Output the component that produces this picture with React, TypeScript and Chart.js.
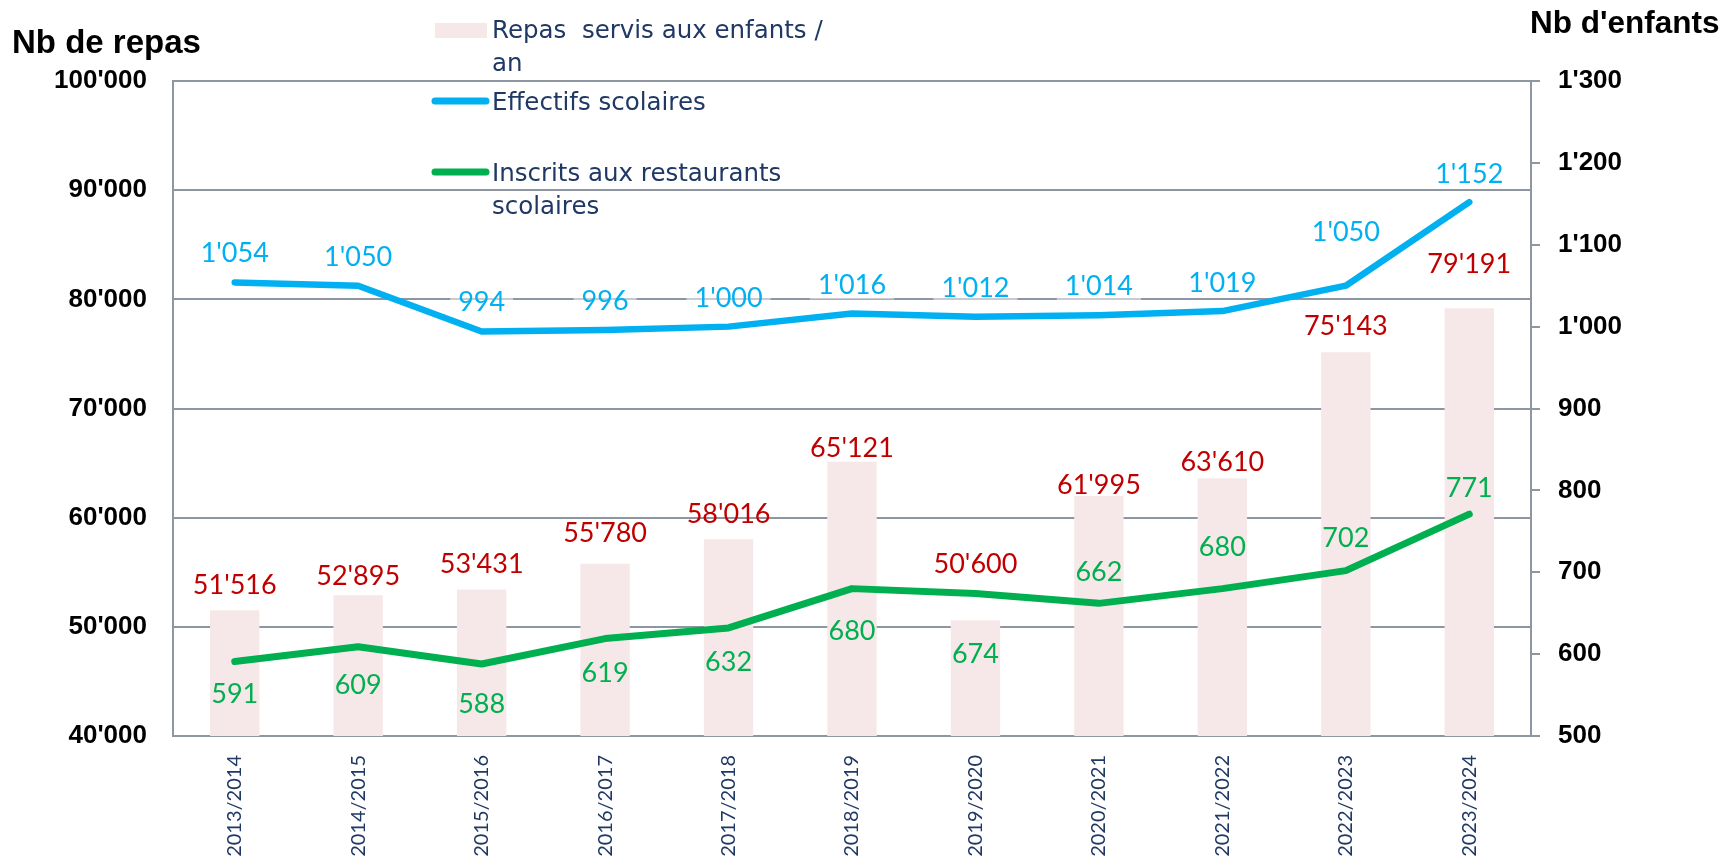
import React, { useEffect, useRef } from "react";
import { Chart, registerables } from "chart.js";

Chart.register(...registerables);

// ---- Data ----
const categories = [
  "2013/2014", "2014/2015", "2015/2016", "2016/2017", "2017/2018", "2018/2019",
  "2019/2020", "2020/2021", "2021/2022", "2022/2023", "2023/2024",
];
const repasServis = [51516, 52895, 53431, 55780, 58016, 65121, 50600, 61995, 63610, 75143, 79191];
const effectifsScolaires = [1054, 1050, 994, 996, 1000, 1016, 1012, 1014, 1019, 1050, 1152];
const inscritsRestaurants = [591, 609, 588, 619, 632, 680, 674, 662, 680, 702, 771];

const leftAxis = { min: 40000, max: 100000, step: 10000 };
const rightAxis = { min: 500, max: 1300, step: 100 };

const seriesNames = ["Repas  servis aux enfants / an", "Effectifs scolaires", "Inscrits aux restaurants scolaires"];
const legendLines = [["Repas  servis aux enfants /", "an"], ["Effectifs scolaires"], ["Inscrits aux restaurants", "scolaires"]];
const leftTitle = "Nb de repas";
const rightTitle = "Nb d'enfants";

// label vertical offsets relative to each mark (px)
const repasLabelDy = [-26, -20, -26, -31, -26, -14, -57, -12, -17, -27, -45];
const effectifsLabelDy = [-30, -29, -30, -30, -29, -29, -30, -30, -29, -54, -29];
const inscritsLabelDy = [32, 38, 39, 34, 33, 42, 60, -32, -42, -33, -27];

// ---- Styles ----
const BAR_COLOR = "#F6E8E8";
const BLUE = "#00B0F0";
const GREEN = "#00B050";
const RED = "#C00000";
const NAVY = "#1F3864";
const GRID = "#8E96A2";
const LABEL_FS = 27;

const fmt = (n: number) => String(Math.round(n)).replace(/\B(?=(\d{3})+(?!\d))/g, "'");

const labelPlugin = {
  id: "valueLabels",
  afterDatasetsDraw(chart: any) {
    const ctx = chart.ctx;
    const specs = [
      { idx: 0, dy: repasLabelDy, color: RED, box: false },
      { idx: 1, dy: effectifsLabelDy, color: BLUE, box: true },
      { idx: 2, dy: inscritsLabelDy, color: GREEN, box: false },
    ];
    ctx.save();
    ctx.font = `400 ${LABEL_FS}px Lato`;
    ctx.textAlign = "center";
    ctx.textBaseline = "alphabetic";
    specs.forEach((s) => {
      const meta = chart.getDatasetMeta(s.idx);
      const data = chart.data.datasets[s.idx].data as number[];
      meta.data.forEach((el: any, i: number) => {
        const x = el.x;
        const cy = el.y + s.dy[i];
        const text = fmt(data[i]);
        if (s.box) {
          const w = ctx.measureText(text).width;
          ctx.fillStyle = "rgba(255,255,255,0.5)";
          ctx.fillRect(x - w / 2 - 8, cy - 15, w + 16, 30);
        }
        ctx.fillStyle = s.color;
        ctx.fillText(text, x, cy + 0.36 * LABEL_FS);
      });
    });
    ctx.restore();
  },
};

const decorPlugin = {
  id: "decor",
  afterDraw(chart: any) {
    const ctx = chart.ctx;
    ctx.save();
    // axis titles
    ctx.fillStyle = "#000";
    ctx.textBaseline = "alphabetic";
    ctx.textAlign = "left";
    ctx.font = `bold 33px "Liberation Sans"`;
    ctx.fillText(leftTitle, 12, 53);
    ctx.font = `bold 31.5px "Liberation Sans"`;
    ctx.fillText(rightTitle, 1530, 33);

    // legend
    ctx.font = `24.5px "DejaVu Sans"`;
    ctx.fillStyle = BAR_COLOR;
    ctx.fillRect(435, 23, 52, 15);
    ctx.lineCap = "round";
    ctx.lineWidth = 7;
    ctx.strokeStyle = BLUE;
    ctx.beginPath();
    ctx.moveTo(435, 101);
    ctx.lineTo(486, 101);
    ctx.stroke();
    ctx.strokeStyle = GREEN;
    ctx.beginPath();
    ctx.moveTo(435, 172);
    ctx.lineTo(486, 172);
    ctx.stroke();
    ctx.fillStyle = NAVY;
    const baselines = [[38, 71], [110], [181, 214]];
    legendLines.forEach((lines, k) => {
      lines.forEach((t, j) => ctx.fillText(t, 492, baselines[k][j]));
    });
    ctx.restore();
  },
};

export default function App() {
  const canvasRef = useRef<HTMLCanvasElement | null>(null);

  useEffect(() => {
    if (!canvasRef.current) return;
    const tickFont = { family: "Liberation Sans", weight: "bold" as const, size: 26 };
    const chart = new Chart(canvasRef.current, {
      type: "bar",
      data: {
        labels: categories,
        datasets: [
          {
            type: "bar",
            label: seriesNames[0],
            data: repasServis,
            backgroundColor: BAR_COLOR,
            barPercentage: 0.4,
            categoryPercentage: 1,
            yAxisID: "y",
            order: 3,
          },
          {
            type: "line",
            label: seriesNames[1],
            data: effectifsScolaires,
            borderColor: BLUE,
            backgroundColor: BLUE,
            borderWidth: 6.5,
            borderCapStyle: "round",
            borderJoinStyle: "round",
            pointRadius: 0,
            tension: 0,
            yAxisID: "y1",
            order: 1,
          },
          {
            type: "line",
            label: seriesNames[2],
            data: inscritsRestaurants,
            borderColor: GREEN,
            backgroundColor: GREEN,
            borderWidth: 7,
            borderCapStyle: "round",
            borderJoinStyle: "round",
            pointRadius: 0,
            tension: 0,
            yAxisID: "y1",
            order: 2,
          },
        ] as any,
      },
      options: {
        animation: false,
        responsive: true,
        maintainAspectRatio: false,
        layout: { padding: { top: 81, left: 0, right: 0, bottom: 0 } },
        plugins: {
          legend: { display: false },
          tooltip: { enabled: false },
        },
        scales: {
          x: {
            grid: { display: true, drawOnChartArea: false, drawTicks: false },
            border: { display: true, color: GRID, width: 2 },
            ticks: {
              autoSkip: false,
              minRotation: 90,
              maxRotation: 90,
              padding: 19,
              color: NAVY,
              font: { family: "Lato", size: 20 },
            },
            afterFit: (s: any) => {
              s.height = 120;
            },
          },
          y: {
            position: "left",
            min: leftAxis.min,
            max: leftAxis.max,
            ticks: {
              stepSize: leftAxis.step,
              padding: 26,
              color: "#000",
              font: tickFont,
              callback: (v: any) => fmt(Number(v)),
            },
            grid: { color: GRID, lineWidth: 2, drawTicks: false },
            border: { display: true, color: GRID, width: 2 },
            afterFit: (s: any) => {
              s.width = 173;
            },
          },
          y1: {
            position: "right",
            min: rightAxis.min,
            max: rightAxis.max,
            ticks: {
              stepSize: rightAxis.step,
              padding: 18,
              color: "#000",
              font: tickFont,
              callback: (v: any) => fmt(Number(v)),
            },
            grid: { drawOnChartArea: false, drawTicks: true, tickLength: 9, color: GRID, lineWidth: 2 },
            border: { display: true, color: GRID, width: 2 },
            afterFit: (s: any) => {
              s.width = 196;
            },
          },
        },
      } as any,
      plugins: [labelPlugin, decorPlugin],
    });
    return () => chart.destroy();
  }, []);

  return (
    <div style={{ position: "absolute", left: 0, top: 0, width: 1727, height: 856, background: "#fff" }}>
      <canvas ref={canvasRef} />
    </div>
  );
}
